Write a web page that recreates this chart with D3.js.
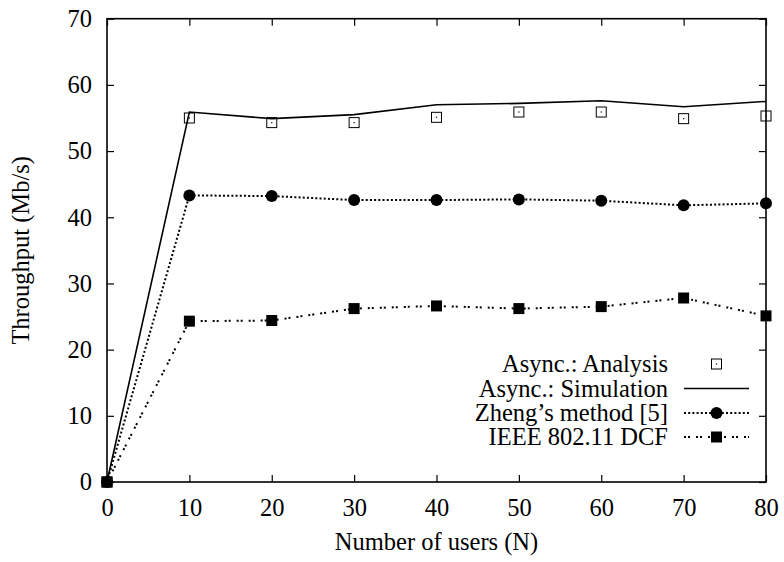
<!DOCTYPE html>
<html>
<head>
<meta charset="utf-8">
<script src="https://cdn.jsdelivr.net/npm/d3@7"></script>
<style>
  html, body { margin: 0; padding: 0; background: #fff; }
  svg { display: block; }
  text { font-family: "Liberation Serif", "Times New Roman", serif; fill: #000; }
</style>
</head>
<body>
<svg id="chart" width="784" height="562"></svg>
<script>
// ---- data ----
const users = [0, 10, 20, 30, 40, 50, 60, 70, 80];
const asyncAnalysis = [0, 55.0, 54.3, 54.3, 55.1, 55.9, 55.9, 54.9, 55.3];
const asyncSimulation = [0, 55.9, 54.9, 55.5, 57.0, 57.2, 57.6, 56.7, 57.5];
const zhengMethod = [0, 43.3, 43.2, 42.6, 42.6, 42.7, 42.5, 41.8, 42.1];
const ieeeDCF = [0, 24.3, 24.4, 26.2, 26.6, 26.2, 26.5, 27.8, 25.1];
const xTicks = [0, 10, 20, 30, 40, 50, 60, 70, 80];
const yTicks = [0, 10, 20, 30, 40, 50, 60, 70];
const legendLabels = ["Async.: Analysis", "Async.: Simulation", "Zheng\u2019s method [5]", "IEEE 802.11 DCF"];
const xTitle = "Number of users (N)";
const yTitle = "Throughput (Mb/s)";

// ---- layout ----
const svg = d3.select("#chart");
const L = 107, R = 766, T = 18.7, B = 482;
const x = d3.scaleLinear().domain([0, 80]).range([L, R]);
const y = d3.scaleLinear().domain([0, 70]).range([B, T]);
const fs = 24.5;
const FONT = "'Liberation Serif', 'Times New Roman', serif";

// axes (inward ticks, mirrored)
const gx = svg.append("g").attr("transform", `translate(0,${B})`)
  .call(d3.axisBottom(x).tickValues(xTicks).tickSize(-7).tickPadding(17).tickFormat(d3.format("d")));
const gxt = svg.append("g").attr("transform", `translate(0,${T})`)
  .call(d3.axisTop(x).tickValues(xTicks).tickSize(-7).tickFormat(""));
const gy = svg.append("g").attr("transform", `translate(${L},0)`)
  .call(d3.axisLeft(y).tickValues(yTicks).tickSize(-7).tickPadding(15).tickFormat(d3.format("d")));
const gyr = svg.append("g").attr("transform", `translate(${R},0)`)
  .call(d3.axisRight(y).tickValues(yTicks).tickSize(-7).tickFormat(""));
[gx, gxt, gy, gyr].forEach(g => {
  g.select(".domain").remove();
  g.selectAll(".tick line").attr("stroke", "#000").attr("stroke-width", 1.2);
  g.selectAll("text").style("font-size", fs + "px").style("font-family", FONT).attr("fill", "#000");
});

// frame
svg.append("rect").attr("x", L).attr("y", T).attr("width", R - L).attr("height", B - T)
  .attr("fill", "none").attr("stroke", "#000").attr("stroke-width", 1.6);

// titles
svg.append("text").attr("x", (L + R) / 2).attr("y", 550).attr("text-anchor", "middle")
  .style("font-size", fs + "px").style("font-family", FONT).text(xTitle);
svg.append("text").attr("transform", `translate(29,${(T + B) / 2}) rotate(-90)`)
  .attr("text-anchor", "middle").style("font-size", fs + "px").style("font-family", FONT).text(yTitle);

const line = d3.line().x((d, i) => x(users[i])).y(d => y(d));

// series lines
svg.append("path").datum(asyncSimulation).attr("d", line)
  .attr("fill", "none").attr("stroke", "#000").attr("stroke-width", 1.6);
svg.append("path").datum(zhengMethod).attr("d", line)
  .attr("fill", "none").attr("stroke", "#000").attr("stroke-width", 2).attr("stroke-dasharray", "2,2.2");
svg.append("path").datum(ieeeDCF).attr("d", line)
  .attr("fill", "none").attr("stroke", "#000").attr("stroke-width", 2).attr("stroke-dasharray", "2,2,2,6");

// marker helpers
function openSquare(g, cx, cy) {
  g.append("rect").attr("x", cx - 5).attr("y", cy - 5).attr("width", 10).attr("height", 10)
    .attr("fill", "none").attr("stroke", "#000").attr("stroke-width", 1);
  g.append("rect").attr("x", cx - 0.6).attr("y", cy - 0.6).attr("width", 1.2).attr("height", 1.2).attr("fill", "#000");
}
function filledCircle(g, cx, cy) {
  g.append("circle").attr("cx", cx).attr("cy", cy).attr("r", 6).attr("fill", "#000");
}
function filledSquare(g, cx, cy) {
  g.append("rect").attr("x", cx - 5.5).attr("y", cy - 5.5).attr("width", 11).attr("height", 11).attr("fill", "#000");
}

const gm = svg.append("g");
zhengMethod.forEach((v, i) => filledCircle(gm, x(users[i]), y(v)));
ieeeDCF.forEach((v, i) => filledSquare(gm, x(users[i]), y(v)));
asyncAnalysis.forEach((v, i) => openSquare(gm, x(users[i]), y(v)));

// legend
const lg = svg.append("g");
const rowY = [364, 388.5, 413, 437];
const textRight = 668, sx0 = 684, sx1 = 749, sxm = 716.5;
legendLabels.forEach((lab, i) => {
  lg.append("text").attr("x", textRight).attr("y", rowY[i]).attr("dy", "0.34em")
    .attr("text-anchor", "end").style("font-size", fs + "px").style("font-family", FONT).text(lab);
});
openSquare(lg, sxm, rowY[0]);
lg.append("line").attr("x1", sx0).attr("x2", sx1).attr("y1", rowY[1]).attr("y2", rowY[1])
  .attr("stroke", "#000").attr("stroke-width", 1.6);
lg.append("line").attr("x1", sx0).attr("x2", sx1).attr("y1", rowY[2]).attr("y2", rowY[2])
  .attr("stroke", "#000").attr("stroke-width", 2).attr("stroke-dasharray", "2,2.2");
filledCircle(lg, sxm, rowY[2]);
lg.append("line").attr("x1", sx0).attr("x2", sx1).attr("y1", rowY[3]).attr("y2", rowY[3])
  .attr("stroke", "#000").attr("stroke-width", 2).attr("stroke-dasharray", "2,2,2,6");
filledSquare(lg, sxm, rowY[3]);
</script>
</body>
</html>
